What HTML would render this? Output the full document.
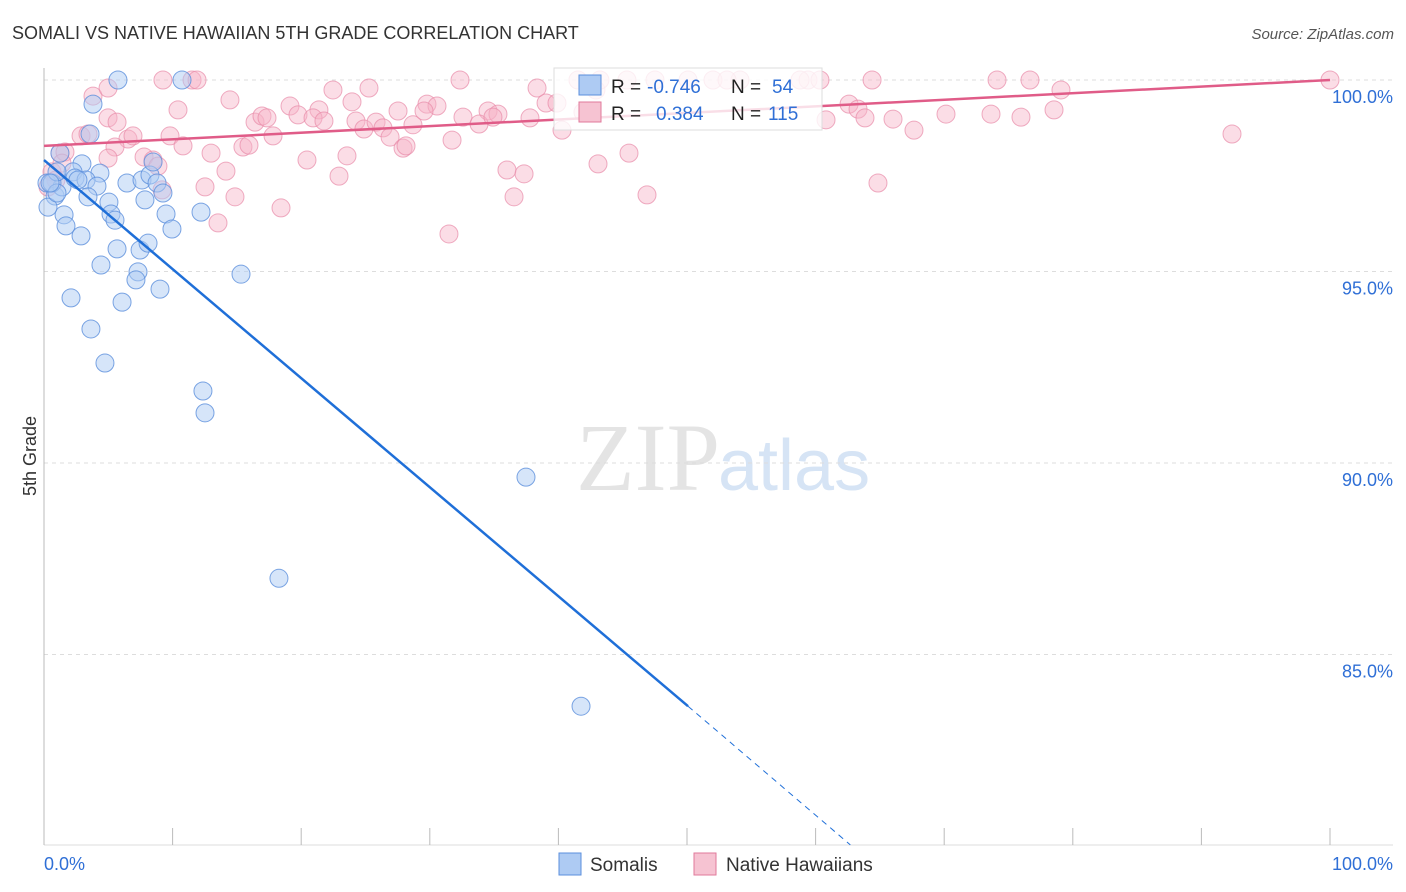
<!DOCTYPE html>
<html><head><meta charset="utf-8"><style>
body{margin:0;background:#fff;font-family:"Liberation Sans",sans-serif;}
svg{display:block}
</style></head><body>
<svg id="chart" width="1406" height="892" xmlns="http://www.w3.org/2000/svg">
<text x="12" y="39" font-size="18" fill="#333">SOMALI VS NATIVE HAWAIIAN 5TH GRADE CORRELATION CHART</text>
<text x="1394" y="39" font-size="15" fill="#555" font-style="italic" text-anchor="end">Source: ZipAtlas.com</text>
<text x="36" y="456" font-size="18" fill="#333" transform="rotate(-90 36 456)" text-anchor="middle">5th Grade</text>
<text x="720" y="490" font-size="96" fill="#e4e4e4" text-anchor="end" font-family="Liberation Serif,serif">ZIP</text>
<text x="718" y="490" font-size="72" fill="#d6e4f5">atlas</text>
<g id="grid"></g><g id="axes"></g><g id="pts"></g><g id="lines"></g>
<g>
<rect x="554" y="68" width="268" height="62" fill="#fff" fill-opacity="0.8" stroke="#ddd"/>
<rect x="579" y="75" width="22" height="20" fill="#aecbf3" stroke="#5b8fdc"/>
<rect x="579" y="102" width="22" height="20" fill="#f6c3d2" stroke="#e0799b"/>
<text x="611" y="93" font-size="19" fill="#222">R =</text>
<text x="647" y="93" font-size="19" fill="#2f6fd6">-0.746</text>
<text x="731" y="93" font-size="19" fill="#222">N =</text>
<text x="772" y="93" font-size="19" fill="#2f6fd6">54</text>
<text x="611" y="120" font-size="19" fill="#222">R =</text>
<text x="656" y="120" font-size="19" fill="#2f6fd6">0.384</text>
<text x="731" y="120" font-size="19" fill="#222">N =</text>
<text x="768" y="120" font-size="19" fill="#2f6fd6">115</text>
</g>
<g>
<rect x="559" y="853" width="22" height="22" fill="#aecbf3" stroke="#5b8fdc"/>
<text x="590" y="871" font-size="19" fill="#333">Somalis</text>
<rect x="694" y="853" width="22" height="22" fill="#f6c3d2" stroke="#e0799b"/>
<text x="726" y="871" font-size="19" fill="#333">Native Hawaiians</text>
</g>
</svg>
<script>
const yTicks=[100,95,90,85];
const yTickLabels=["100.0%","95.0%","90.0%","85.0%"];
const xTicks=[0,10,20,30,40,50,60,70,80,90,100];
const blueX=[5.75,10.73,3.81,1.24,2.95,0.23,0.86,1.40,2.26,2.41,4.35,3.27,4.12,3.42,6.45,7.62,8.24,8.48,8.79,9.25,7.85,5.05,5.21,5.52,1.56,1.71,2.88,9.49,9.95,12.21,5.68,7.47,8.09,7.31,7.15,4.43,15.32,9.02,6.07,2.10,3.65,4.74,12.36,12.52,37.48,18.27,41.76,0.31,0.62,1.01,3.58,2.64,1.01,0.47];
const blueY=[100,100,99.37,98.09,97.81,97.31,96.97,97.21,97.60,97.44,97.57,97.39,97.23,96.95,97.31,97.39,97.52,97.86,97.31,97.05,96.87,96.81,96.50,96.34,96.48,96.19,95.93,96.50,96.11,96.55,95.59,95.56,95.74,94.99,94.78,95.17,94.93,94.54,94.20,94.31,93.50,92.61,91.88,91.31,89.63,86.99,83.65,96.68,97.31,97.05,98.59,97.39,97.60,97.31];
const pinkX=[9.25,11.51,11.9,32.35,41.52,47.51,52.02,54.12,59.41,60.34,64.39,74.11,100,3.81,14.46,22.47,25.27,10.42,23.95,19.13,21.38,27.53,29.78,30.56,32.58,34.53,35.30,38.34,39.04,39.89,41.91,42.92,62.60,63.30,60.81,63.84,66.02,67.65,70.14,73.64,75.97,78.54,79.08,92.38,4.98,5.68,2.88,3.42,6.53,6.92,5.52,1.24,1.63,4.98,7.78,8.48,9.80,10.81,12.99,15.47,15.94,16.41,16.95,17.34,17.81,19.75,20.92,20.45,21.77,22.94,23.56,24.26,24.88,25.82,26.36,26.91,27.92,28.15,28.69,29.55,31.73,33.83,34.91,36.00,37.33,36.55,31.49,37.79,40.28,43.08,45.49,46.89,64.85,12.52,14.15,14.85,13.53,18.43,9.18,0.62,0.93,0.31,1.40,8.86,4.98,58.79,53.11,50.08,45.33,43.23,76.67];
const pinkY=[100,100,100,100,100,100,100,100,100,100,100,100,100,99.58,99.48,99.74,99.79,99.22,99.43,99.32,99.22,99.19,99.37,99.32,99.03,99.19,99.11,99.79,99.40,99.40,99.16,99.74,99.37,99.24,98.96,99.01,98.98,98.69,99.11,99.11,99.03,99.22,99.74,98.59,99.01,98.90,98.54,98.59,98.46,98.54,98.25,98.09,98.12,97.96,97.99,97.91,98.54,98.28,98.09,98.25,98.30,98.90,99.06,99.01,98.54,99.09,99.01,97.91,98.93,97.49,98.02,98.93,98.72,98.90,98.75,98.51,98.22,98.28,98.83,99.19,98.43,98.85,99.03,97.65,97.55,96.95,95.98,99.01,98.69,97.81,98.09,97.0,97.31,97.21,97.62,96.95,96.27,96.66,97.13,97.60,97.39,97.21,97.83,97.75,99.79,100,100,100,100,100,100];
const blueTrend=[97.91,83.65,80.03];const blueTrendX=[0,50.08,62.7];
const pinkTrend=[98.28,100];const pinkTrendX=[0,100];
const NS="http://www.w3.org/2000/svg";
const sx=v=>44+v*12.86, sy=v=>80+(100-v)*38.3;
function mk(t,a,p){const e=document.createElementNS(NS,t);for(const k in a)e.setAttribute(k,a[k]);p.appendChild(e);return e;}
const grid=document.getElementById('grid'),axes=document.getElementById('axes'),pts=document.getElementById('pts'),lines=document.getElementById('lines');
yTicks.forEach((t,i)=>{const l=mk('line',{x1:44,x2:1393,y1:sy(t),y2:sy(t),stroke:'#ddd','stroke-dasharray':'4,4'},grid);


const tx=mk('text',{x:1393,y:sy(t)+23,'font-size':18,fill:'#2f6fd6','text-anchor':'end'},axes);tx.textContent=yTickLabels[i];

});
const la=mk('line',{x1:44,x2:44,y1:68,y2:845,stroke:'#bbb'},axes);


const lb=mk('line',{x1:44,x2:1393,y1:845,y2:845,stroke:'#ddd'},axes);


xTicks.forEach(t=>{const l=mk('line',{x1:sx(t),x2:sx(t),y1:828,y2:845,stroke:'#bbb'},axes);

});
const x0=mk('text',{x:44,y:870,'font-size':18,fill:'#2f6fd6'},axes);x0.textContent='0.0%';


const x1=mk('text',{x:1393,y:870,'font-size':18,fill:'#2f6fd6','text-anchor':'end'},axes);x1.textContent='100.0%';


pinkX.forEach((x,i)=>{const c=mk('circle',{cx:sx(x),cy:sy(pinkY[i]),r:9,fill:'#f6b4c8','fill-opacity':0.45,stroke:'#e88aa8','stroke-opacity':0.7},pts);

});
blueX.forEach((x,i)=>{const c=mk('circle',{cx:sx(x),cy:sy(blueY[i]),r:9,fill:'#aecbf3','fill-opacity':0.5,stroke:'#5b8fdc','stroke-opacity':0.8},pts);

});
const pl=mk('line',{x1:sx(pinkTrendX[0]),y1:sy(pinkTrend[0]),x2:sx(pinkTrendX[1]),y2:sy(pinkTrend[1]),stroke:'#e05c88','stroke-width':2.5},lines);


const bl=mk('line',{x1:sx(blueTrendX[0]),y1:sy(blueTrend[0]),x2:sx(blueTrendX[1]),y2:sy(blueTrend[1]),stroke:'#1f6fd8','stroke-width':2.5},lines);


const bd=mk('line',{x1:sx(blueTrendX[1]),y1:sy(blueTrend[1]),x2:sx(blueTrendX[2]),y2:sy(blueTrend[2]),stroke:'#1f6fd8','stroke-width':1,'stroke-dasharray':'6,5'},lines);


</script>
</body></html>
